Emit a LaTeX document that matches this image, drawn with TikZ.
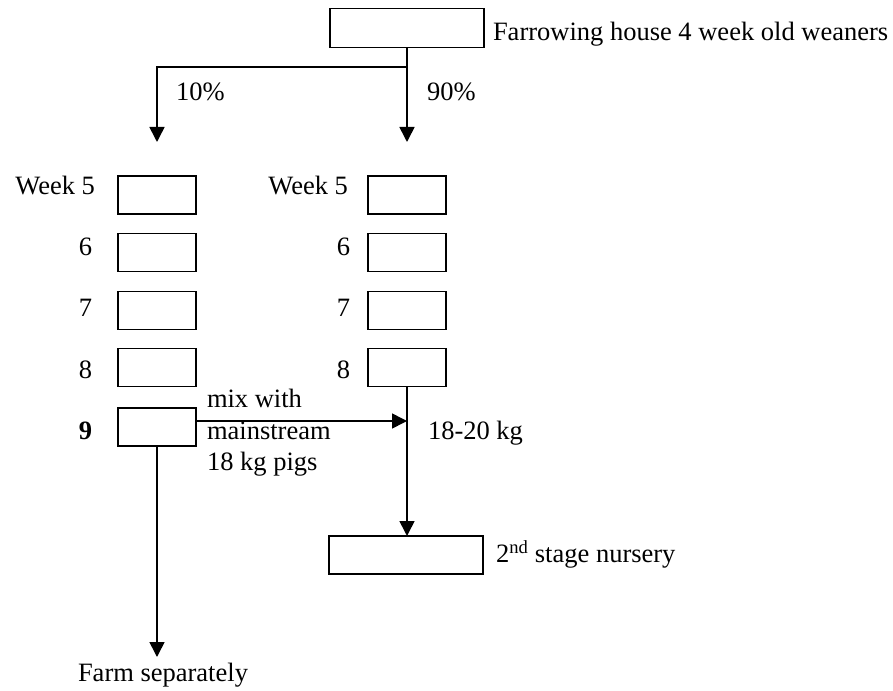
\documentclass[tikz,border=0pt]{standalone}
\usepackage{fontspec}
\setmainfont{Liberation Serif}
\usetikzlibrary{arrows.meta}
\begin{document}
\begin{tikzpicture}[x=1bp,y=-1bp,
  every node/.style={inner sep=0pt,outer sep=0pt,font=\fontsize{26.5bp}{31bp}\selectfont},
  pen/.style={draw=black,fill=white,line width=1.6bp,rectangle},
  colbox/.style={pen,minimum width=78bp,minimum height=38bp},
  widebox/.style={pen,minimum width=154bp,minimum height=39bp},
  lbl/.style={anchor=base east},
  txt/.style={anchor=base west},
  conn/.style={line width=1.6bp},
  arr/.style={conn,-{Triangle[length=15bp,width=15bp]}}]
\useasboundingbox (0,0) rectangle (893,691);

% top box
\node[widebox] (top) at (407,28) {};
\node[txt] (toptxt) at (493,41) {Farrowing house 4 week old weaners};

\coordinate (split) at (407,67);
\coordinate (lcorner) at (157,67);
\coordinate (ltip) at (157,142);
\coordinate (rtip) at (407,142);

\draw[conn] (top.south) -- (split);
\draw[arr] (split) -- (lcorner) -- (ltip);
\draw[arr] (split) -- (rtip);
\node[txt] (p10) at (176,101) {10\%};
\node[txt] (p90) at (427,101) {90\%};

% left column
\node[colbox] (l5) at (157,195) {};
\node[colbox] (l6) at (157,252.5) {};
\node[colbox] (l7) at (157,310.5) {};
\node[colbox] (l8) at (157,367.5) {};
\node[colbox] (l9) at (157,427) {};
\node[lbl] (tl5) at (95,194) {Week 5};
\node[lbl] (tl6) at (92,255) {6};
\node[lbl] (tl7) at (92,316) {7};
\node[lbl] (tl8) at (92,378) {8};
\node[lbl] (tl9) at (92,439) {\bfseries 9};

% right column
\node[colbox] (r5) at (407,195) {};
\node[colbox] (r6) at (407,252.5) {};
\node[colbox] (r7) at (407,310.5) {};
\node[colbox] (r8) at (407,367.5) {};
\node[lbl] (tr5) at (348,194) {Week 5};
\node[lbl] (tr6) at (350,255) {6};
\node[lbl] (tr7) at (350,316) {7};
\node[lbl] (tr8) at (350,378) {8};

% second stage
\node[widebox,minimum height=38bp] (nursery) at (406,555) {};
\node[txt] (nurstxt) at (496,562) {2\textsuperscript{nd} stage nursery};

\coordinate (mix) at (407,421);
\coordinate (farm) at (157,657);

\draw[arr] (r8.south) -- (r8.south |- nursery.north);
\draw[arr] (l9.east |- mix) -- (mix);
\draw[arr] (l9.south) -- (farm);

\node[txt] (mix1) at (207,407) {mix with};
\node[txt] (mix2) at (207,439) {mainstream};
\node[txt] (mix3) at (207,470) {18 kg pigs};
\node[txt] (kg) at (428,439) {18-20 kg};
\node[txt] (farmtxt) at (78,681) {Farm separately};
\end{tikzpicture}
\end{document}
